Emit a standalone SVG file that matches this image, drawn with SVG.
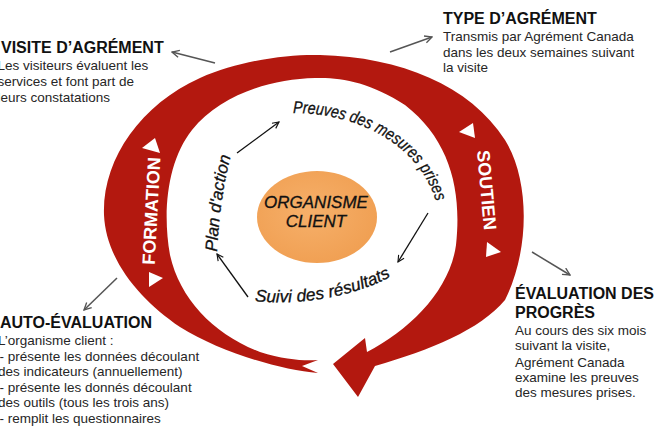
<svg xmlns="http://www.w3.org/2000/svg" width="663" height="442" viewBox="0 0 663 442">
<style>
.h{font-family:"Liberation Sans",Arial,sans-serif;font-weight:bold;font-size:16px;fill:#111}
.b{font-family:"Liberation Sans",Arial,sans-serif;font-size:13.5px;fill:#262626}
.band{font-family:"Liberation Sans",Arial,sans-serif;font-weight:bold;font-size:18px;fill:#fff}
.it{font-family:"Liberation Sans",Arial,sans-serif;font-style:italic;font-size:17px;fill:#111;stroke:#111;stroke-width:0.3}
.g{stroke:#555;stroke-width:1.5;fill:none}
.k{stroke:#111;stroke-width:1.3;fill:none}
.tri{fill:#fff}
</style>
<defs>
<radialGradient id="org" cx="0.45" cy="0.45" r="0.6"><stop offset="0" stop-color="#f6b06a"/><stop offset="1" stop-color="#f09f52"/></radialGradient>
<marker id="ga" viewBox="0 0 10 10" refX="9" refY="5" markerWidth="9" markerHeight="9" markerUnits="userSpaceOnUse" orient="auto"><path d="M1,1 L9,5 L1,9" fill="none" stroke="#555" stroke-width="1.5"/></marker>
<marker id="ka" viewBox="0 0 10 10" refX="9" refY="5" markerWidth="8" markerHeight="8" markerUnits="userSpaceOnUse" orient="auto"><path d="M1,1 L9,5 L1,9" fill="none" stroke="#111" stroke-width="1.4"/></marker>
<path id="pPreuves" d="M 291 113 C 350 112, 418 140, 436 202"/>
<path id="pSuivi" d="M 254 301 C 290 305, 350 301, 397 273"/>
<path id="pPlan" d="M 217 253 Q 220 195 232 151"/>
</defs>

<g id="cycle-band">
<path fill="#b3180f" d="M 318 373 C 280 370, 220 352, 180 327 C 140 300, 106 260, 104 215 C 102 160, 140 105, 200 78 C 240 60, 290 54, 320 55 C 400 57, 470 85, 505 140 C 530 180, 530 250, 505 300 C 480 330, 430 350, 375 366 L 358 397 L 333 364 L 365 338 L 367 352 C 410 330, 450 290, 456 245 C 462 190, 450 140, 405 105 C 370 82, 340 77, 315 78 C 270 79, 220 95, 192 130 C 168 160, 162 210, 170 255 C 180 300, 215 335, 260 352 C 285 360, 305 361, 318 360 L 302 366 Z"/>
</g>

<g id="formation">
<text class="band" transform="translate(151,211) rotate(-87)" text-anchor="middle" dy="6.5">FORMATION</text>
<polygon class="tri" points="155,138 160,153 142,148"/>
<polygon class="tri" points="149,272 163,278 149,287"/>
</g>

<g id="soutien">
<text class="band" transform="translate(487,190) rotate(85)" text-anchor="middle" dy="6.5">SOUTIEN</text>
<polygon class="tri" points="473,123 475,138 459,132"/>
<polygon class="tri" points="487,242 501,252 486,257"/>
</g>

<g id="organisme-client">
<ellipse cx="317" cy="217" rx="60" ry="46" fill="url(#org)"/>
<text class="it" x="316" y="208" text-anchor="middle" font-size="16" stroke-width="0.2">ORGANISME</text>
<text class="it" x="316" y="227" text-anchor="middle" font-size="16" stroke-width="0.2">CLIENT</text>
</g>

<g id="preuves">
<text class="it"><textPath href="#pPreuves" startOffset="2" textLength="180" lengthAdjust="spacingAndGlyphs">Preuves des mesures prises</textPath></text>
</g>
<g id="suivi">
<text class="it" font-size="17.5"><textPath href="#pSuivi" startOffset="1" textLength="140" lengthAdjust="spacingAndGlyphs">Suivi des résultats</textPath></text>
</g>
<g id="plan">
<text class="it"><textPath href="#pPlan" startOffset="1" textLength="97" lengthAdjust="spacingAndGlyphs">Plan d'action</textPath></text>
</g>

<g id="visite">
<text class="h" x="1" y="53">VISITE D’AGRÉMENT</text>
<text class="b" x="-2.5" y="70">Les visiteurs évaluent les</text>
<text class="b" x="-2.5" y="86">services et font part de</text>
<text class="b" x="-2.5" y="102">leurs constatations</text>
</g>

<g id="type">
<text class="h" x="443" y="24">TYPE D’AGRÉMENT</text>
<text class="b" x="443" y="41">Transmis par Agrément Canada</text>
<text class="b" x="443" y="57">dans les deux semaines suivant</text>
<text class="b" x="443" y="72">la visite</text>
</g>

<g id="auto-evaluation">
<text class="h" x="0" y="328">AUTO-ÉVALUATION</text>
<text class="b" x="-2" y="345">L’organisme client :</text>
<text class="b" x="-0.5" y="361">- présente les données découlant</text>
<text class="b" x="-2" y="376">des indicateurs (annuellement)</text>
<text class="b" x="-0.5" y="392">- présente les donnés découlant</text>
<text class="b" x="-2" y="407">des outils (tous les trois ans)</text>
<text class="b" x="-0.5" y="423">- remplit les questionnaires</text>
</g>

<g id="evaluation-progres">
<text class="h" x="515" y="299">ÉVALUATION DES</text>
<text class="h" x="515" y="318">PROGRÈS</text>
<text class="b" x="515" y="335">Au cours des six mois</text>
<text class="b" x="515" y="350">suivant la visite,</text>
<text class="b" x="515" y="367">Agrément Canada</text>
<text class="b" x="515" y="382">examine les preuves</text>
<text class="b" x="515" y="397">des mesures prises.</text>
</g>

<g id="connectors">
<line class="g" x1="215" y1="63" x2="172" y2="52" marker-end="url(#ga)"/>
<line class="g" x1="390" y1="52" x2="432" y2="37" marker-end="url(#ga)"/>
<line class="g" x1="117" y1="278" x2="84" y2="310" marker-end="url(#ga)"/>
<line class="g" x1="532" y1="252" x2="570" y2="275" marker-end="url(#ga)"/>
<line class="k" x1="237" y1="153" x2="279" y2="122" marker-end="url(#ka)"/>
<line class="k" x1="428" y1="213" x2="398" y2="262" marker-end="url(#ka)"/>
<line class="k" x1="248" y1="297" x2="217" y2="254" marker-end="url(#ka)"/>
</g>
</svg>
